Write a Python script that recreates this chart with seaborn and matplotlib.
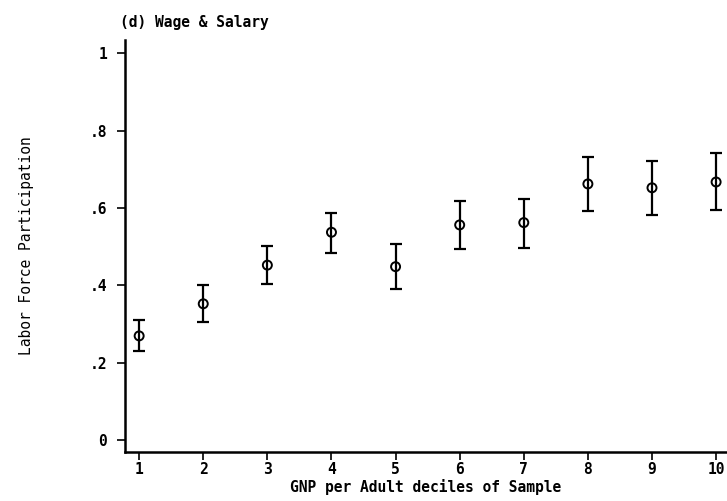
import matplotlib
matplotlib.use("Agg")
import matplotlib.pyplot as plt
import seaborn as sns
import numpy as np
import pandas as pd

deciles = [1, 2, 3, 4, 5, 6, 7, 8, 9, 10]
participation = [0.269, 0.352, 0.452, 0.537, 0.448, 0.556, 0.562, 0.662, 0.652, 0.667]
upper = [0.310, 0.401, 0.501, 0.586, 0.506, 0.617, 0.623, 0.731, 0.722, 0.742]
lower = [0.231, 0.304, 0.402, 0.484, 0.390, 0.494, 0.497, 0.593, 0.581, 0.594]
y_ticks = [0, 0.2, 0.4, 0.6, 0.8, 1.0]
y_tick_labels = ["0", ".2", ".4", ".6", ".8", "1"]

df = pd.DataFrame({"decile": deciles, "lfp": participation, "hi": upper, "lo": lower})

sns.set_style("white")
plt.rcParams["font.family"] = ["DejaVu Sans Mono"]
plt.rcParams["text.color"] = "black"
plt.rcParams["axes.labelcolor"] = "black"

fig = plt.figure(figsize=(7.27, 5.01), dpi=100)
ax = fig.add_axes([0.172, 0.098, 0.828, 0.822])

yerr = np.vstack([df["lfp"] - df["lo"], df["hi"] - df["lfp"]])
ax.errorbar(df["decile"], df["lfp"], yerr=yerr, fmt="none", ecolor="black",
            elinewidth=1.6, capsize=4.5, capthick=1.6, zorder=2)
sns.scatterplot(data=df, x="decile", y="lfp", ax=ax, marker="o", s=42,
                facecolors="none", edgecolor="black", linewidth=1.4, zorder=3)

ax.set_xlim(0.78, 10.17)
ax.set_ylim(-0.031, 1.034)
ax.set_xticks(deciles)
ax.set_xticklabels([str(d) for d in deciles], fontsize=10.5, fontweight="bold")
ax.set_yticks(y_ticks)
ax.set_yticklabels(y_tick_labels, fontsize=10.5, fontweight="bold")

for s in ["top", "right"]:
    ax.spines[s].set_visible(False)
for s in ["left", "bottom"]:
    ax.spines[s].set_linewidth(1.8)
    ax.spines[s].set_color("black")

ax.tick_params(axis="both", which="major", direction="out", length=6, width=1.2,
               colors="black", bottom=True, left=True, pad=1)
ax.tick_params(axis="y", pad=7)

ax.set_xlabel("GNP per Adult deciles of Sample", fontsize=10.5, fontweight="bold", labelpad=2)
ax.set_ylabel("Labor Force Participation", fontsize=10.5, labelpad=40)
fig.text(0.165, 0.955, "(d) Wage & Salary", fontsize=10.5, fontweight="bold",
         ha="left", va="center")

fig.savefig("out.png", dpi=100)
